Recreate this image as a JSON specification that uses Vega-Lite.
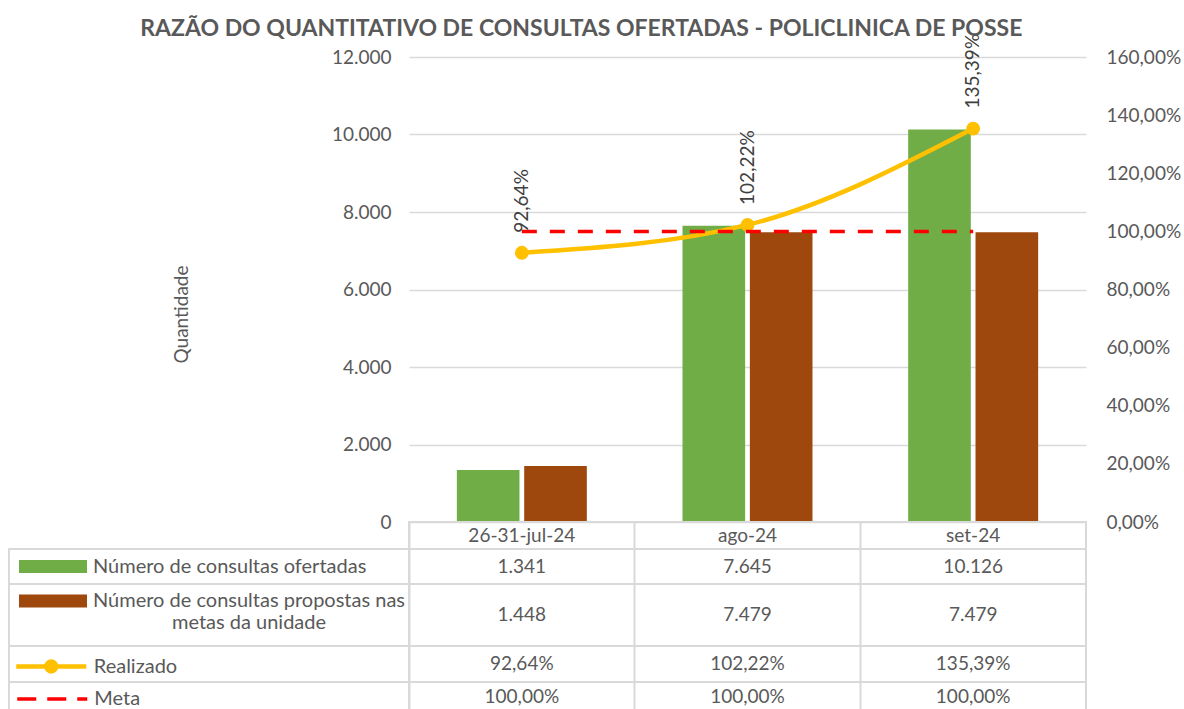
{
  "$schema": "https://vega.github.io/schema/vega-lite/v6.json",
  "padding": {"left": 8, "top": 17, "right": 2, "bottom": 0},
  "config": {
    "font": "Lato",
    "locale": {"number": {"decimal": ",", "thousands": ".", "grouping": [3], "currency": ["R$ ", ""]}},
    "view": {"stroke": null}
  },
  "title": {
    "text": "RAZÃO DO QUANTITATIVO DE CONSULTAS OFERTADAS - POLICLINICA DE POSSE",
    "fontSize": 23, "fontWeight": "bold", "color": "#595959", "anchor": "middle", "offset": -7, "dx": -13
  },
  "columns": 2,
  "spacing": 0,
  "bounds": "flush",
  "align": "each",
  "resolve": {"scale": {"color": "independent"}, "legend": {"color": "independent"}},
  "datasets": {
    "d": [
      {"cat": "26-31-jul-24", "k": "of", "serie": "Número de consultas ofertadas", "valor": 1341},
      {"cat": "26-31-jul-24", "k": "pr", "serie": "Número de consultas propostas nas metas da unidade", "valor": 1448},
      {"cat": "26-31-jul-24", "k": "re", "serie": "Realizado", "valor": 0.9264},
      {"cat": "26-31-jul-24", "k": "me", "serie": "Meta", "valor": 1},
      {"cat": "ago-24", "k": "of", "serie": "Número de consultas ofertadas", "valor": 7645},
      {"cat": "ago-24", "k": "pr", "serie": "Número de consultas propostas nas metas da unidade", "valor": 7479},
      {"cat": "ago-24", "k": "re", "serie": "Realizado", "valor": 1.0222},
      {"cat": "ago-24", "k": "me", "serie": "Meta", "valor": 1},
      {"cat": "set-24", "k": "of", "serie": "Número de consultas ofertadas", "valor": 10126},
      {"cat": "set-24", "k": "pr", "serie": "Número de consultas propostas nas metas da unidade", "valor": 7479},
      {"cat": "set-24", "k": "re", "serie": "Realizado", "valor": 1.3539},
      {"cat": "set-24", "k": "me", "serie": "Meta", "valor": 1}
    ]
  },
  "concat": [
    {"width": 400, "height": 465, "data": {"values": []}, "mark": "point", "encoding": {}},
    {
      "width": 677, "height": 465,
      "data": {"name": "d"},
      "encoding": {"x": {"field": "cat", "type": "nominal", "sort": null, "scale": {"type": "band", "paddingInner": 0.424, "paddingOuter": 0.212}, "axis": null}},
      "layer": [
        {
          "transform": [{"filter": "datum.k == 'of' || datum.k == 'pr'"}],
          "mark": {"type": "bar"},
          "encoding": {
            "xOffset": {"field": "k", "type": "nominal", "sort": null, "scale": {"paddingInner": 0.07}},
            "y": {"field": "valor", "type": "quantitative", "scale": {"domain": [0, 12000], "nice": false},
              "axis": {"orient": "left", "values": [0, 2000, 4000, 6000, 8000, 10000, 12000], "format": ",d", "title": "Quantidade",
                "grid": true, "gridColor": "#d9d9d9", "gridWidth": 1.5, "domain": false, "ticks": false,
                "labelPadding": 18, "labelFontSize": 19, "labelColor": "#595959",
                "titleFontSize": 19, "titleFontWeight": "normal", "titleColor": "#595959",
                "titleX": -228, "titleY": 257, "titleAngle": 270, "titleAlign": "center", "titleBaseline": "middle"}},
            "color": {"field": "k", "type": "nominal", "sort": null, "scale": {"range": ["#70AD47", "#9E480E"]}, "legend": null}
          }
        },
        {
          "encoding": {"y": {"field": "valor", "type": "quantitative", "scale": {"domain": [0, 1.6], "nice": false},
            "axis": {"orient": "right", "values": [0, 0.2, 0.4, 0.6, 0.8, 1, 1.2, 1.4, 1.6], "format": ".2%", "title": null,
              "grid": false, "domain": false, "ticks": false, "labelPadding": 20, "labelFontSize": 19, "labelColor": "#595959"}}},
          "layer": [
            {"transform": [{"filter": "datum.k == 're'"}], "mark": {"type": "line", "color": "#FFC000", "strokeWidth": 4.5, "interpolate": "monotone"}, "encoding": {}},
            {"transform": [{"filter": "datum.k == 're'"}], "mark": {"type": "point", "filled": true, "color": "#FFC000", "opacity": 1, "size": 190}, "encoding": {}},
            {"transform": [{"filter": "datum.k == 'me'"}], "mark": {"type": "line", "color": "#FF0000", "strokeWidth": 3.5, "strokeDash": [15, 13]}, "encoding": {}},
            {"transform": [{"filter": "datum.k == 're'"}], "mark": {"type": "text", "angle": 270, "align": "left", "baseline": "middle", "dx": 20, "fontSize": 19, "color": "#404040"},
              "encoding": {"text": {"field": "valor", "type": "quantitative", "format": ".2%"}}}
          ]
        }
      ],
      "resolve": {"scale": {"y": "independent"}}
    },
    {"width": 400, "height": 27, "data": {"values": []}, "mark": "point", "encoding": {}},
    {
      "width": 677, "height": 27,
      "view": {"stroke": "#d9d9d9", "strokeWidth": 2},
      "data": {"name": "d"},
      "transform": [{"filter": "datum.k == 'me'"}],
      "mark": {"type": "text", "fontSize": 19, "color": "#595959"},
      "encoding": {
        "x": {"field": "cat", "type": "nominal", "sort": null, "scale": {"type": "band", "paddingInner": 0, "paddingOuter": 0},
          "axis": {"title": null, "labels": false, "ticks": false, "domain": false, "grid": true, "gridColor": "#d9d9d9", "gridWidth": 2, "bandPosition": 0}},
        "text": {"field": "cat", "type": "nominal"}
      }
    },
    {
      "width": 400, "height": 35,
      "view": {"stroke": "#d9d9d9", "strokeWidth": 2},
      "data": {"name": "d"},
      "transform": [{"filter": "datum.k == 'of' && datum.cat == 'set-24'"}],
      "mark": {"type": "square", "opacity": 0},
      "encoding": {"color": {"field": "serie", "type": "nominal", "scale": {"range": ["#70AD47"]},
        "legend": {"title": null, "orient": "none", "legendX": 10, "legendY": -16.5, "padding": 0,
          "symbolType": "M-1,-0.19H1V0.19H-1Z", "symbolSize": 4624, "symbolStrokeWidth": 0, "symbolOpacity": 1,
          "labelFontSize": 20, "labelColor": "#595959", "labelOffset": 6, "labelLimit": 400}}}
    },
    {
      "width": 677, "height": 35,
      "view": {"stroke": "#d9d9d9", "strokeWidth": 2},
      "data": {"name": "d"},
      "transform": [{"filter": "datum.k == 'of'"}],
      "mark": {"type": "text", "fontSize": 19, "color": "#595959"},
      "encoding": {
        "x": {"field": "cat", "type": "nominal", "sort": null, "scale": {"type": "band", "paddingInner": 0, "paddingOuter": 0},
          "axis": {"title": null, "labels": false, "ticks": false, "domain": false, "grid": true, "gridColor": "#d9d9d9", "gridWidth": 2, "bandPosition": 0}},
        "text": {"field": "valor", "type": "quantitative", "format": ",d"}
      }
    },
    {
      "width": 400, "height": 62,
      "view": {"stroke": "#d9d9d9", "strokeWidth": 2},
      "data": {"name": "d"},
      "transform": [{"filter": "datum.k == 'pr' && datum.cat == 'set-24'"}],
      "mark": {"type": "square", "opacity": 0},
      "encoding": {"color": {"field": "serie", "type": "nominal", "scale": {"range": ["#9E480E"]},
        "legend": {"title": null, "orient": "none", "legendX": 10, "legendY": -17, "padding": 0,
          "symbolType": "M-1,-0.19H1V0.19H-1Z", "symbolSize": 4624, "symbolStrokeWidth": 0, "symbolOpacity": 1,
          "labelFontSize": 20, "labelColor": "#595959", "labelOffset": 162, "labelAlign": "center", "labelLimit": 400,
          "labelExpr": "[slice(datum.label, 0, 33), slice(datum.label, 34)]"}}}
    },
    {
      "width": 677, "height": 62,
      "view": {"stroke": "#d9d9d9", "strokeWidth": 2},
      "data": {"name": "d"},
      "transform": [{"filter": "datum.k == 'pr'"}],
      "mark": {"type": "text", "fontSize": 19, "color": "#595959"},
      "encoding": {
        "x": {"field": "cat", "type": "nominal", "sort": null, "scale": {"type": "band", "paddingInner": 0, "paddingOuter": 0},
          "axis": {"title": null, "labels": false, "ticks": false, "domain": false, "grid": true, "gridColor": "#d9d9d9", "gridWidth": 2, "bandPosition": 0}},
        "text": {"field": "valor", "type": "quantitative", "format": ",d"}
      }
    },
    {
      "width": 400, "height": 36,
      "view": {"stroke": "#d9d9d9", "strokeWidth": 2},
      "data": {"name": "d"},
      "transform": [{"filter": "datum.k == 're' && datum.cat == 'set-24'"}],
      "mark": {"type": "square", "opacity": 0},
      "encoding": {"color": {"field": "serie", "type": "nominal", "scale": {"range": ["#FFC000"]},
        "legend": {"title": null, "orient": "none", "legendX": 4.75, "legendY": -17, "padding": 0,
          "symbolType": "M-1,0H1M0.14,0A0.14,0.14,0,1,1,-0.14,0A0.14,0.14,0,1,1,0.14,0Z", "symbolSize": 4900,
          "symbolStrokeColor": "#FFC000", "symbolStrokeWidth": 4.5, "symbolOpacity": 1,
          "labelFontSize": 20, "labelColor": "#595959", "labelOffset": 5, "labelLimit": 400}}}
    },
    {
      "width": 677, "height": 36,
      "view": {"stroke": "#d9d9d9", "strokeWidth": 2},
      "data": {"name": "d"},
      "transform": [{"filter": "datum.k == 're'"}],
      "mark": {"type": "text", "fontSize": 19, "color": "#595959"},
      "encoding": {
        "x": {"field": "cat", "type": "nominal", "sort": null, "scale": {"type": "band", "paddingInner": 0, "paddingOuter": 0},
          "axis": {"title": null, "labels": false, "ticks": false, "domain": false, "grid": true, "gridColor": "#d9d9d9", "gridWidth": 2, "bandPosition": 0}},
        "text": {"field": "valor", "type": "quantitative", "format": ".2%"}
      }
    },
    {
      "width": 400, "height": 30,
      "view": {"stroke": "#d9d9d9", "strokeWidth": 2},
      "data": {"name": "d"},
      "transform": [{"filter": "datum.k == 'me' && datum.cat == 'set-24'"}],
      "mark": {"type": "square", "opacity": 0},
      "encoding": {"color": {"field": "serie", "type": "nominal", "scale": {"range": ["#FF0000"]},
        "legend": {"title": null, "orient": "none", "legendX": 6.25, "legendY": -20, "padding": 0,
          "symbolType": "M-1,0H1", "symbolSize": 4900,
          "symbolStrokeColor": "#FF0000", "symbolStrokeWidth": 3.5, "symbolDash": [19, 11], "symbolOpacity": 1,
          "labelFontSize": 20, "labelColor": "#595959", "labelOffset": 5, "labelLimit": 400}}}
    },
    {
      "width": 677, "height": 30,
      "view": {"stroke": "#d9d9d9", "strokeWidth": 2},
      "data": {"name": "d"},
      "transform": [{"filter": "datum.k == 'me'"}],
      "mark": {"type": "text", "fontSize": 19, "color": "#595959"},
      "encoding": {
        "x": {"field": "cat", "type": "nominal", "sort": null, "scale": {"type": "band", "paddingInner": 0, "paddingOuter": 0},
          "axis": {"title": null, "labels": false, "ticks": false, "domain": false, "grid": true, "gridColor": "#d9d9d9", "gridWidth": 2, "bandPosition": 0}},
        "text": {"field": "valor", "type": "quantitative", "format": ".2%"}
      }
    }
  ]
}
